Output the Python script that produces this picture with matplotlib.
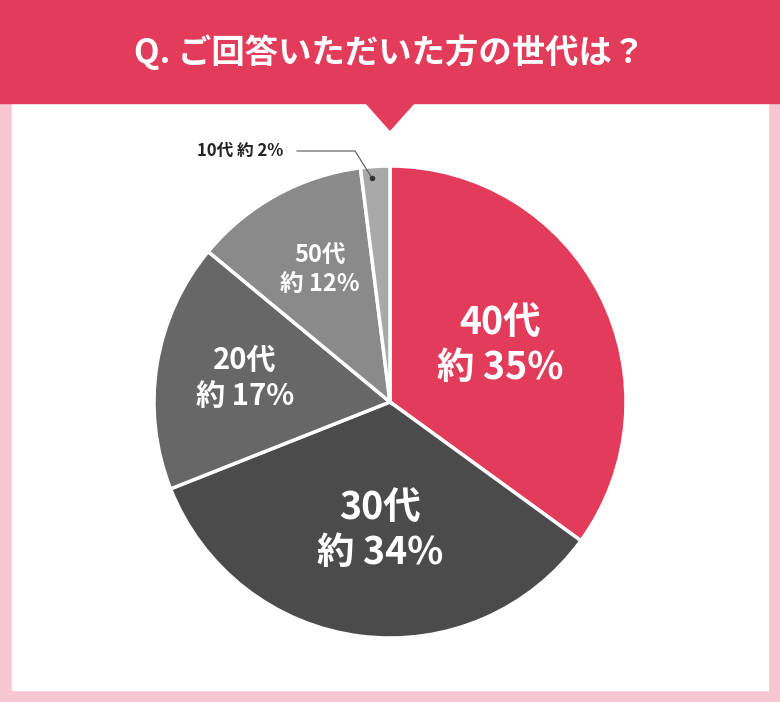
import matplotlib
matplotlib.use("Agg")
import matplotlib.pyplot as plt
from matplotlib.patches import Rectangle, Polygon

plt.rcParams['font.family'] = ['Noto Sans CJK JP', 'DejaVu Sans']

categories = ["40代", "30代", "20代", "50代", "10代"]
values = [35, 34, 17, 12, 2]
labels = ["約 35%", "約 34%", "約 17%", "約 12%", "約 2%"]
colors = ["#e33c5a", "#4b4b4b", "#676767", "#8a8a8a", "#a9a9a9"]

W, H = 780, 702
fig = plt.figure(figsize=(W/100, H/100), dpi=100)
bg = fig.add_axes([0, 0, 1, 1])
bg.set_xlim(0, W); bg.set_ylim(H, 0); bg.axis('off')
bg.add_patch(Rectangle((0, 0), W, H, color="#f8c6d0"))
bg.add_patch(Rectangle((12, 100), W-24, H-112, color="white"))
bg.add_patch(Rectangle((0, 0), W, 103, color="#e33c5a"))
bg.add_patch(Polygon([[365, 102], [415, 102], [390, 130]], color="#e33c5a"))
bg.text(390, 52, "Q. ご回答いただいた方の世代は？", color="white", fontsize=24,
        fontweight='bold', ha='center', va='center')

cx, cy, r = 390, 402, 236
ax = fig.add_axes([(cx-r)/W, 1-(cy+r)/H, 2*r/W, 2*r/H])
wedges, _ = ax.pie(values, colors=colors, startangle=90, counterclock=False, radius=1,
                   wedgeprops=dict(edgecolor='white', linewidth=2.5))
ax.set_xlim(-1, 1); ax.set_ylim(-1, 1)
ax.set_aspect('equal')

ov = fig.add_axes([0, 0, 1, 1])
ov.set_xlim(0, W); ov.set_ylim(H, 0); ov.axis('off'); ov.patch.set_alpha(0)

pos = [(500, 345, 27), (380, 530, 27), (245, 378, 21), (320, 270, 17)]
for (x, y, fs), c, l in zip(pos, categories, labels):
    ov.text(x, y - fs*0.85, c, color='white', fontsize=fs, fontweight='bold', ha='center', va='center')
    ov.text(x, y + fs*0.85, l, color='white', fontsize=fs, fontweight='bold', ha='center', va='center')

ov.text(240, 151, categories[4] + " " + labels[4], fontsize=12, fontweight='bold',
        ha='center', va='center', color='#222222')
ov.plot([297, 355, 372], [151, 151, 178], color='#555555', lw=0.8)
ov.plot([372], [178], 'o', color='#333333', ms=3)

fig.savefig("out.png", dpi=100)
